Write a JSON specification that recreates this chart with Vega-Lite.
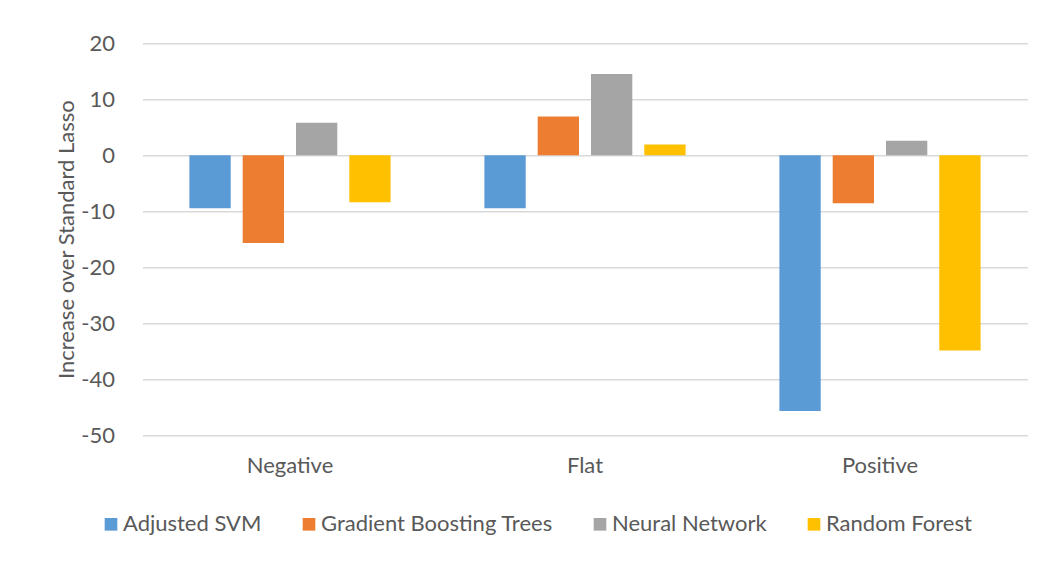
{
  "$schema": "https://vega.github.io/schema/vega-lite/v6.json",
  "autosize": {"type": "none"},
  "width": 885,
  "height": 391.7,
  "padding": {"left": 142.5, "top": 43.3, "right": 19.5, "bottom": 131},
  "background": "#ffffff",
  "config": {
    "view": {"stroke": null},
    "font": "Lato",
    "axis": {
      "labelFont": "Lato",
      "labelFontSize": 22,
      "labelColor": "#595959",
      "titleFont": "Lato",
      "titleFontSize": 22,
      "titleFontWeight": "normal",
      "titleColor": "#595959"
    },
    "legend": {
      "labelFont": "Lato",
      "labelFontSize": 22,
      "labelColor": "#595959",
      "labelLimit": 0
    }
  },
  "data": {
    "values": [
      {"trend": "Negative", "model": "Adjusted SVM", "increase": -9.5},
      {"trend": "Negative", "model": "Gradient Boosting Trees", "increase": -15.7},
      {"trend": "Negative", "model": "Neural Network", "increase": 5.8},
      {"trend": "Negative", "model": "Random Forest", "increase": -8.4},
      {"trend": "Flat", "model": "Adjusted SVM", "increase": -9.5},
      {"trend": "Flat", "model": "Gradient Boosting Trees", "increase": 6.9},
      {"trend": "Flat", "model": "Neural Network", "increase": 14.5},
      {"trend": "Flat", "model": "Random Forest", "increase": 1.9},
      {"trend": "Positive", "model": "Adjusted SVM", "increase": -45.7},
      {"trend": "Positive", "model": "Gradient Boosting Trees", "increase": -8.6},
      {"trend": "Positive", "model": "Neural Network", "increase": 2.6},
      {"trend": "Positive", "model": "Random Forest", "increase": -34.9}
    ]
  },
  "mark": {"type": "bar"},
  "encoding": {
    "x": {
      "field": "trend",
      "type": "nominal",
      "sort": ["Negative", "Flat", "Positive"],
      "scale": {"paddingInner": 0, "paddingOuter": 0},
      "axis": {
        "title": null,
        "labelAngle": 0,
        "domain": false,
        "ticks": false,
        "labelPadding": 20
      }
    },
    "xOffset": {
      "field": "model",
      "type": "nominal",
      "sort": ["Adjusted SVM", "Gradient Boosting Trees", "Neural Network", "Random Forest"],
      "scale": {"paddingInner": 0.225, "paddingOuter": 0.88}
    },
    "y": {
      "field": "increase",
      "type": "quantitative",
      "scale": {"domain": [-50, 20], "nice": false, "zero": false},
      "axis": {
        "title": "Increase over Standard Lasso",
        "values": [-50, -40, -30, -20, -10, 0, 10, 20],
        "labelExpr": "replace(datum.label, '\u2212', '-')",
        "domain": false,
        "ticks": false,
        "labelPadding": 28,
        "titlePadding": 2,
        "gridColor": "#d9d9d9",
        "gridWidth": 1.5
      }
    },
    "color": {
      "field": "model",
      "type": "nominal",
      "sort": ["Adjusted SVM", "Gradient Boosting Trees", "Neural Network", "Random Forest"],
      "scale": {
        "domain": ["Adjusted SVM", "Gradient Boosting Trees", "Neural Network", "Random Forest"],
        "range": ["#5b9bd5", "#ed7d31", "#a5a5a5", "#ffc000"]
      },
      "legend": {
        "title": null,
        "orient": "none",
        "direction": "horizontal",
        "legendX": -42.5,
        "legendY": 470,
        "symbolType": "square",
        "symbolSize": 160,
        "symbolStrokeWidth": 0,
        "labelOffset": 1,
        "columnPadding": 36
      }
    }
  }
}
